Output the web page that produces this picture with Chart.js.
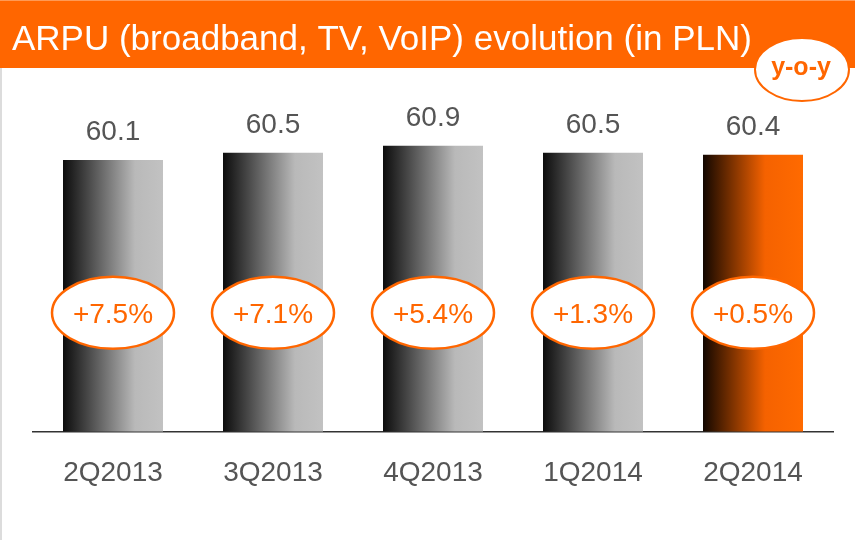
<!DOCTYPE html>
<html>
<head>
<meta charset="utf-8">
<script src="https://cdn.jsdelivr.net/npm/chart.js@4.4.1/dist/chart.umd.min.js"></script>
<style>
  html, body { margin: 0; padding: 0; background: #ffffff; }
  #wrap { width: 855px; height: 540px; position: relative; }
</style>
</head>
<body>
<div id="wrap"><canvas id="c" width="855" height="540"></canvas></div>
<script>
const titleText = 'ARPU (broadband, TV, VoIP) evolution (in PLN)';
const badgeText = 'y-o-y';
const categories = ['2Q2013', '3Q2013', '4Q2013', '1Q2014', '2Q2014'];
const arpu = [60.1, 60.5, 60.9, 60.5, 60.4];
const yoyChange = ['+7.5%', '+7.1%', '+5.4%', '+1.3%', '+0.5%'];
const highlightIndex = 4;

const FONT = '"Liberation Sans", Arial, Helvetica, sans-serif';
const ORANGE = '#ff6600';
const GRAY_TEXT = '#555555';
const BAR_RATIO = 0.625;

function barGradient(context) {
  const chart = context.chart;
  const xs = chart.scales && chart.scales.x;
  const i = context.dataIndex;
  const fallback = i === highlightIndex ? ORANGE : '#888888';
  if (!xs || !chart.chartArea || i === undefined) return fallback;
  const cx = xs.getPixelForValue(i);
  const half = (xs.width / categories.length) * BAR_RATIO / 2;
  const g = chart.ctx.createLinearGradient(cx - half, 0, cx + half, 0);
  if (i === highlightIndex) {
    g.addColorStop(0, '#120700');
    g.addColorStop(0.62, '#f56200');
    g.addColorStop(1, '#ff6a00');
  } else {
    g.addColorStop(0, '#0c0c0c');
    g.addColorStop(0.72, '#b9b9b9');
    g.addColorStop(1, '#c2c2c2');
  }
  return g;
}

const decorPlugin = {
  id: 'decor',
  beforeDraw(chart) {
    const ctx = chart.ctx;
    ctx.save();
    ctx.fillStyle = '#ffffff';
    ctx.fillRect(0, 0, chart.width, chart.height);
    ctx.fillStyle = '#dcdcdc';
    ctx.fillRect(0, 68, 2, chart.height - 68);
    ctx.fillStyle = ORANGE;
    ctx.fillRect(0, 0, chart.width, 68);
    ctx.fillStyle = '#ff9a55';
    ctx.fillRect(0, 0, chart.width, 1);
    ctx.fillStyle = '#ffffff';
    ctx.font = '35px ' + FONT;
    ctx.textAlign = 'left';
    ctx.textBaseline = 'alphabetic';
    ctx.fillText(titleText, 12, 50);
    ctx.restore();
  },
  afterDatasetsDraw(chart) {
    const ctx = chart.ctx;
    const meta = chart.getDatasetMeta(0);
    const ys = chart.scales.y;
    ctx.save();
    meta.data.forEach((bar, i) => {
      ctx.fillStyle = GRAY_TEXT;
      ctx.font = '28px ' + FONT;
      ctx.textAlign = 'center';
      ctx.textBaseline = 'alphabetic';
      ctx.fillText(arpu[i].toFixed(1), bar.x, bar.y - 20);
      const cy = ys.getPixelForValue(51.6);
      ctx.beginPath();
      ctx.ellipse(bar.x, cy, 61, 36, 0, 0, Math.PI * 2);
      ctx.fillStyle = '#ffffff';
      ctx.fill();
      ctx.lineWidth = 2.5;
      ctx.strokeStyle = ORANGE;
      ctx.stroke();
      ctx.fillStyle = ORANGE;
      ctx.font = '28px ' + FONT;
      ctx.fillText(yoyChange[i], bar.x, cy + 10.5);
    });
    ctx.beginPath();
    ctx.ellipse(802, 69.5, 47, 31.5, 0, 0, Math.PI * 2);
    ctx.fillStyle = '#ffffff';
    ctx.fill();
    ctx.lineWidth = 2;
    ctx.strokeStyle = ORANGE;
    ctx.stroke();
    ctx.fillStyle = ORANGE;
    ctx.font = 'bold 25px ' + FONT;
    ctx.textAlign = 'center';
    ctx.fillText(badgeText, 801, 75);
    ctx.restore();
  }
};

new Chart(document.getElementById('c'), {
  type: 'bar',
  data: {
    labels: categories,
    datasets: [{
      data: arpu,
      backgroundColor: barGradient,
      borderWidth: 0,
      barPercentage: BAR_RATIO,
      categoryPercentage: 1.0
    }]
  },
  options: {
    responsive: false,
    devicePixelRatio: 1,
    animation: false,
    layout: { padding: { top: 72, left: 33, right: 22, bottom: 25 } },
    plugins: { legend: { display: false }, tooltip: { enabled: false }, title: { display: false } },
    scales: {
      y: { display: false, min: 45, max: 65 },
      x: {
        grid: { display: false, drawTicks: false },
        border: { display: true, color: '#333333', width: 1.5 },
        ticks: { color: GRAY_TEXT, font: { family: FONT, size: 28, lineHeight: 1.2 }, padding: 25 }
      }
    }
  },
  plugins: [decorPlugin]
});
</script>
</body>
</html>
